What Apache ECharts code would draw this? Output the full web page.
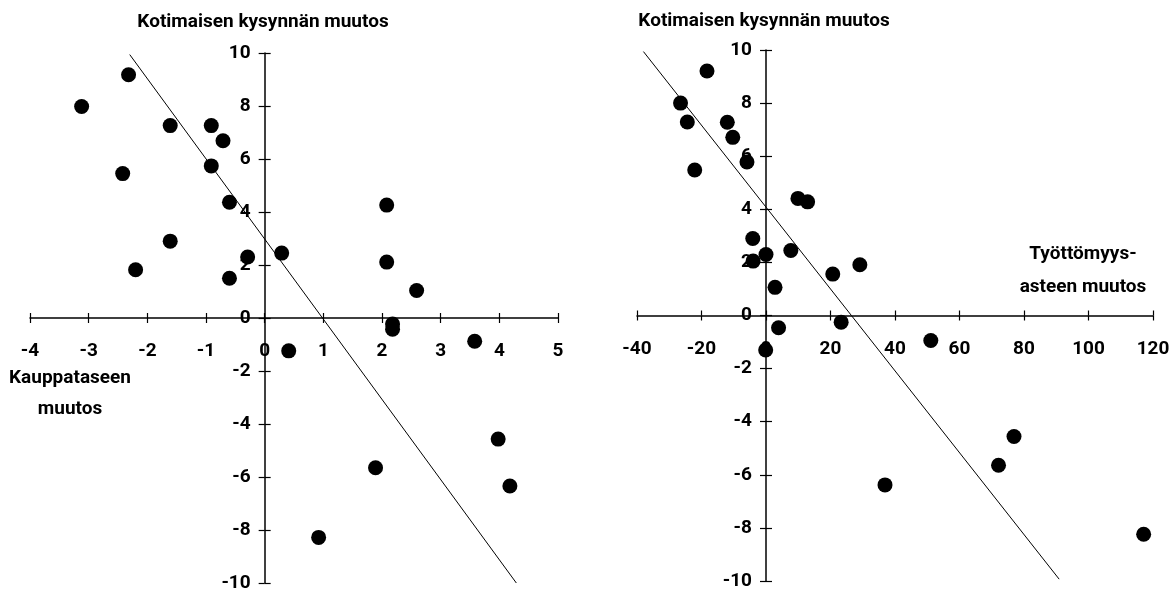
<!DOCTYPE html>
<html>
<head>
<meta charset="utf-8">
<script src="https://cdn.jsdelivr.net/npm/echarts@6/dist/echarts.min.js"></script>
<style>html,body{margin:0;padding:0;background:#fff}#c{width:1172px;height:593px}</style>
</head>
<body>
<div id="c"></div>
<script>
// ---- Left panel: trade balance change (x) vs domestic demand change (y)
const tradeChange = [-3.12,-2.32,-1.61,-0.91,-0.71,-2.42,-0.91,-0.60,-1.61,-2.20,-0.29,-0.60,0.29,2.08,2.08,2.59,2.18,2.18,0.41,3.58,3.98,1.89,4.18,0.92];
const demandLeft  = [7.98,9.18,7.26,7.26,6.69,5.45,5.74,4.37,2.90,1.82,2.30,1.50,2.45,4.26,2.11,1.04,-0.23,-0.42,-1.24,-0.88,-4.57,-5.65,-6.34,-8.28];
const leftFitX = [-2.30, 4.29];
const leftFitY = [9.94, -10.0];

// ---- Right panel: unemployment rate change (x) vs domestic demand change (y)
const unemploymentChange = [-18.3,-26.5,-24.4,-12.0,-10.3,-22.1,-5.9,9.9,12.9,-4.1,-4.0,0.0,7.7,20.7,29.1,2.8,3.9,23.3,-0.1,51.1,76.9,72.1,36.9,117.1];
const demandRight = [9.21,8.0,7.29,7.28,6.71,5.48,5.78,4.41,4.28,2.9,2.05,2.3,2.45,1.56,1.91,1.06,-0.46,-0.25,-1.3,-0.94,-4.56,-5.64,-6.38,-8.24];
const rightFitX = [-38.0, 90.9];
const rightFitY = [9.94, -9.93];

// ---- Axis ranges / labels
const leftXAxis  = {min: -4, max: 5, interval: 1};
const rightXAxis = {min: -40, max: 120, interval: 20};
const yAxisRange = {min: -10, max: 10, interval: 2};
const titleText = 'Kotimaisen kysynnän muutos';
const leftXName = 'Kauppataseen\nmuutos';
const rightXName = 'Työttömyys-\nasteen muutos';

const FONT = "Roboto,'Liberation Sans',sans-serif";
const labelStyle = {color:'#000', fontSize:19, fontWeight:'bold', fontFamily:FONT};

const grids = [
  {left:30, top:53, width:528, height:530},
  {left:637, top:50, width:516, height:531}
];

function pairs(xs, ys){ return xs.map((x,i)=>[x, ys[i]]); }
// pixel offset that brings an axis from the grid edge to the zero line of the other axis
function zeroOffset(range, size){
  const frac = (0 - range.min) / (range.max - range.min);
  return -frac * size;
}

function xAxisDef(g, range, main){
  return {
    gridIndex: g, type:'value', min: range.min, max: range.max, interval: range.interval,
    position:'bottom',
    offset: zeroOffset(yAxisRange, grids[g].height),
    axisLine:{show: main, onZero:false, lineStyle:{color:'#000', width:1.5}},
    axisTick:{show:true, inside: !main, length:5, lineStyle:{color:'#000', width:1.2}},
    axisLabel: main ? Object.assign({margin:24}, labelStyle) : {show:false},
    splitLine:{show:false}
  };
}
function yAxisDef(g, xrange, main){
  return {
    gridIndex: g, type:'value', min: yAxisRange.min, max: yAxisRange.max, interval: yAxisRange.interval,
    position:'left',
    offset: zeroOffset(xrange, grids[g].width),
    axisLine:{show: main, onZero:false, lineStyle:{color:'#000', width:1.5}},
    axisTick:{show:true, inside: !main, length:6, lineStyle:{color:'#000', width:1.2}},
    axisLabel: main ? Object.assign({margin:14}, labelStyle) : {show:false},
    splitLine:{show:false}
  };
}

const textStyleBase = {fill:'#000', align:'center', verticalAlign:'middle', textAlign:'center', textVerticalAlign:'middle'};

const chart = echarts.init(document.getElementById('c'), null, {renderer:'canvas'});
chart.setOption({
  animation:false,
  backgroundColor:'#fff',
  grid: grids.map(g => Object.assign({outerBoundsMode:'none', containLabel:false}, g)),
  xAxis:[ xAxisDef(0, leftXAxis, true), xAxisDef(0, leftXAxis, false), xAxisDef(1, rightXAxis, true), xAxisDef(1, rightXAxis, false) ],
  yAxis:[ yAxisDef(0, leftXAxis, true), yAxisDef(0, leftXAxis, false), yAxisDef(1, rightXAxis, true), yAxisDef(1, rightXAxis, false) ],
  graphic:[
    {type:'text', x:263, y:22, style:Object.assign({text:titleText, font:"bold 19px "+FONT}, textStyleBase)},
    {type:'text', x:764, y:21, style:Object.assign({text:titleText, font:"bold 19px "+FONT}, textStyleBase)},
    {type:'text', x:70, y:394, style:Object.assign({text:leftXName, font:"bold 19px "+FONT, lineHeight:31}, textStyleBase)},
    {type:'text', x:1083, y:271, style:Object.assign({text:rightXName, font:"bold 19px "+FONT, lineHeight:33}, textStyleBase)}
  ],
  series:[
    {type:'scatter', xAxisIndex:0, yAxisIndex:0, symbolSize:15, itemStyle:{color:'#000', opacity:1}, data:pairs(tradeChange, demandLeft), silent:true},
    {type:'line', xAxisIndex:0, yAxisIndex:0, showSymbol:false, symbol:'none', lineStyle:{color:'#000', width:1}, data:pairs(leftFitX, leftFitY), silent:true},
    {type:'scatter', xAxisIndex:2, yAxisIndex:2, symbolSize:15, itemStyle:{color:'#000', opacity:1}, data:pairs(unemploymentChange, demandRight), silent:true},
    {type:'line', xAxisIndex:2, yAxisIndex:2, showSymbol:false, symbol:'none', lineStyle:{color:'#000', width:1}, data:pairs(rightFitX, rightFitY), silent:true}
  ]
});
</script>
</body>
</html>
